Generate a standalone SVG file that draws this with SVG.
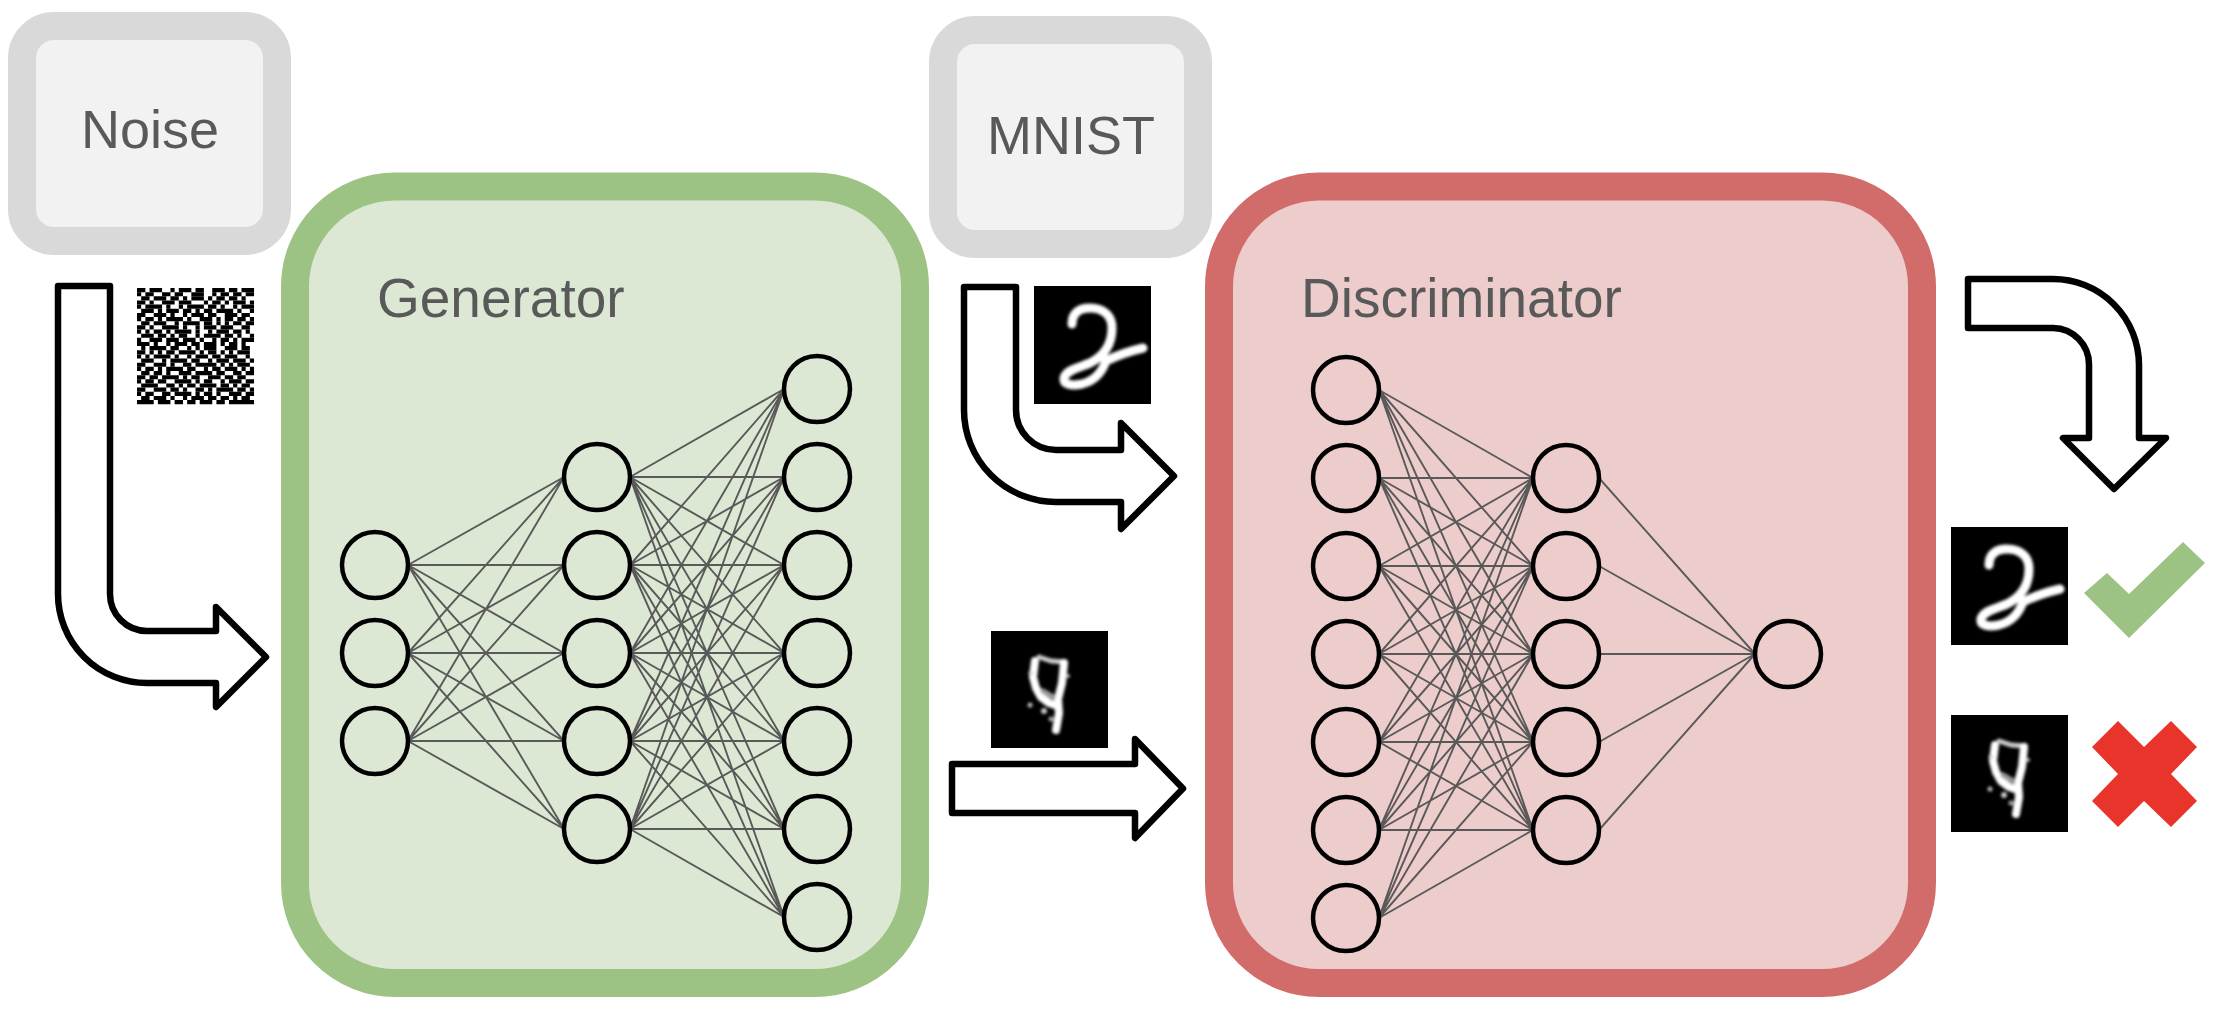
<svg xmlns="http://www.w3.org/2000/svg" width="2222" height="1012" viewBox="0 0 2222 1012">
<style>
.src rect{fill:#f2f2f2;stroke:#d9d9d9;stroke-width:28}
.lbl{font-family:"Liberation Sans",Arial,sans-serif;fill:#595959}
.edge{fill:none;stroke:#595959;stroke-width:1.9}
.nd{fill:none;stroke:#000;stroke-width:4.5}
.arrow{fill:#fff;stroke:#000;stroke-width:6.5;stroke-linejoin:round}
.nz path{fill:none;stroke:#000;stroke-width:1}
</style>
<defs>
<filter id="soft" x="-20%" y="-20%" width="140%" height="140%"><feGaussianBlur stdDeviation="1.8"/></filter>
<g id="img2">
<rect x="0" y="0" width="117" height="118" fill="#000"/>
<path d="M38,38 C38,26 46,22 56,22 C70,22 78,30 78,42 C78,58 70,70 56,77 C44,82 32,84 30,92 C29,99 38,100 48,98 C60,95 68,86 72,75 C82,70 96,65 109,62" fill="none" stroke="#fff" stroke-width="9" stroke-linecap="round" stroke-linejoin="round" filter="url(#soft)"/>
</g>
<g id="img4">
<rect x="0" y="0" width="117" height="117" fill="#000"/>
<g fill="none" stroke="#fff" stroke-linecap="round" stroke-linejoin="round" filter="url(#soft)">
<path d="M44,30 L42,46 L45,57 L50,66 L58,72 L64,74" stroke-width="8"/>
<path d="M48,26 L60,30 L74,31" stroke-width="5" stroke="#ccc"/>
<path d="M73,32 L71,52 L67,68 L68,82 L65,99" stroke-width="8"/>
<path d="M52,60 L62,66" stroke-width="5" stroke="#999"/>
<circle cx="39" cy="74" r="2.5" fill="#bbb" stroke="none"/>
<circle cx="53" cy="80" r="3" fill="#ccc" stroke="none"/>
<circle cx="60" cy="88" r="2.5" fill="#aaa" stroke="none"/>
<circle cx="40" cy="42" r="2.5" fill="#ddd" stroke="none"/>
<circle cx="77" cy="45" r="2" fill="#bbb" stroke="none"/>
</g>
</g>
</defs>
<rect width="2222" height="1012" fill="#fff"/>

<g id="generator">
<rect x="295" y="186.5" width="620" height="796.5" rx="100" fill="#dde8d4" stroke="#9dc384" stroke-width="28"/>
<text class="lbl" x="377" y="317" font-size="55">Generator</text>
<path class="edge" d="M408 565L564 477M408 565L564 565M408 565L564 653M408 565L564 741M408 565L564 829M408 653L564 477M408 653L564 565M408 653L564 653M408 653L564 741M408 653L564 829M408 741L564 477M408 741L564 565M408 741L564 653M408 741L564 741M408 741L564 829"/>
<path class="edge" d="M630 477L784 389M630 477L784 477M630 477L784 565M630 477L784 653M630 477L784 741M630 477L784 829M630 477L784 917M630 565L784 389M630 565L784 477M630 565L784 565M630 565L784 653M630 565L784 741M630 565L784 829M630 565L784 917M630 653L784 389M630 653L784 477M630 653L784 565M630 653L784 653M630 653L784 741M630 653L784 829M630 653L784 917M630 741L784 389M630 741L784 477M630 741L784 565M630 741L784 653M630 741L784 741M630 741L784 829M630 741L784 917M630 829L784 389M630 829L784 477M630 829L784 565M630 829L784 653M630 829L784 741M630 829L784 829M630 829L784 917"/>
<circle class="nd" cx="375" cy="565" r="33"/><circle class="nd" cx="375" cy="653" r="33"/><circle class="nd" cx="375" cy="741" r="33"/>
<circle class="nd" cx="597" cy="477" r="33"/><circle class="nd" cx="597" cy="565" r="33"/><circle class="nd" cx="597" cy="653" r="33"/><circle class="nd" cx="597" cy="741" r="33"/><circle class="nd" cx="597" cy="829" r="33"/>
<circle class="nd" cx="817" cy="389" r="33"/><circle class="nd" cx="817" cy="477" r="33"/><circle class="nd" cx="817" cy="565" r="33"/><circle class="nd" cx="817" cy="653" r="33"/><circle class="nd" cx="817" cy="741" r="33"/><circle class="nd" cx="817" cy="829" r="33"/><circle class="nd" cx="817" cy="917" r="33"/>
</g>

<g id="discriminator">
<rect x="1219" y="186.5" width="703" height="796.5" rx="100" fill="#edcdcc" stroke="#d26c6b" stroke-width="28"/>
<text class="lbl" x="1301" y="317" font-size="55">Discriminator</text>
<path class="edge" d="M1379 390L1533 478M1379 390L1533 566M1379 390L1533 654M1379 390L1533 742M1379 390L1533 830M1379 478L1533 478M1379 478L1533 566M1379 478L1533 654M1379 478L1533 742M1379 478L1533 830M1379 566L1533 478M1379 566L1533 566M1379 566L1533 654M1379 566L1533 742M1379 566L1533 830M1379 654L1533 478M1379 654L1533 566M1379 654L1533 654M1379 654L1533 742M1379 654L1533 830M1379 742L1533 478M1379 742L1533 566M1379 742L1533 654M1379 742L1533 742M1379 742L1533 830M1379 830L1533 478M1379 830L1533 566M1379 830L1533 654M1379 830L1533 742M1379 830L1533 830M1379 918L1533 478M1379 918L1533 566M1379 918L1533 654M1379 918L1533 742M1379 918L1533 830"/>
<path class="edge" d="M1599 478L1755 654M1599 566L1755 654M1599 654L1755 654M1599 742L1755 654M1599 830L1755 654"/>
<circle class="nd" cx="1346" cy="390" r="33"/><circle class="nd" cx="1346" cy="478" r="33"/><circle class="nd" cx="1346" cy="566" r="33"/><circle class="nd" cx="1346" cy="654" r="33"/><circle class="nd" cx="1346" cy="742" r="33"/><circle class="nd" cx="1346" cy="830" r="33"/><circle class="nd" cx="1346" cy="918" r="33"/>
<circle class="nd" cx="1566" cy="478" r="33"/><circle class="nd" cx="1566" cy="566" r="33"/><circle class="nd" cx="1566" cy="654" r="33"/><circle class="nd" cx="1566" cy="742" r="33"/><circle class="nd" cx="1566" cy="830" r="33"/>
<circle class="nd" cx="1788" cy="654" r="33"/>
</g>

<g id="noise" class="src">
<rect x="22" y="26" width="255" height="215" rx="32"/>
<text class="lbl" x="150" y="148" font-size="54" text-anchor="middle">Noise</text>
</g>

<g id="mnist" class="src">
<rect x="943" y="30" width="255" height="214" rx="32"/>
<text class="lbl" x="1071" y="154" font-size="54" text-anchor="middle">MNIST</text>
</g>

<g id="noise-image">
<rect x="137" y="288" width="117" height="116" fill="#fff"/>
<g class="nz" transform="translate(137,288) scale(4.18,4.15)">
<path d="M0 0.5h28" stroke-dasharray="2 1 3 2 1 1 3 1 2 2 3 1 2 1 3"/>
<path d="M0 1.5h28" stroke-dasharray="1 1 2 2 2 1 2 2 3 2 1 1 2 1 2 1 2"/>
<path d="M0 2.5h28" stroke-dasharray="0 1 2 1 3 1 2 1 1 1 3 1 1 1 2 1 2 1 1 2"/>
<path d="M0 3.5h28" stroke-dasharray="2 1 1 2 3 1 3 3 1 1 2 1 1 1 3 1 1"/>
<path d="M0 4.5h28" stroke-dasharray="1 1 4 1 1 2 1 1 4 1 2 1 1 2 1 1 3"/>
<path d="M0 5.5h28" stroke-dasharray="0 1 3 1 1 1 3 1 2 1 1 1 2 1 4 1 1 2 1"/>
<path d="M0 6.5h28" stroke-dasharray="2 2 3 1 1 2 1 1 3 1 2 2 3 1 2 1"/>
<path d="M0 7.5h28" stroke-dasharray="1 1 2 1 1 1 4 1 1 2 3 1 1 1 2 1 2"/>
<path d="M0 8.5h28" stroke-dasharray="0 1 2 1 3 2 1 1 4 1 2 1 1 1 1 1 2 1 2"/>
<path d="M0 9.5h28" stroke-dasharray="2 1 1 2 4 1 1 2 1 1 3 1 3 2 2 1"/>
<path d="M0 10.5h28" stroke-dasharray="1 1 1 1 2 1 1 1 4 1 1 2 1 1 3 1 2"/>
<path d="M0 11.5h28" stroke-dasharray="0 1 3 1 2 1 1 1 2 2 1 1 4 1 2 1 1 2 1"/>
<path d="M0 12.5h28" stroke-dasharray="1 2 3 1 3 1 3 1 1 2 1 1 2 1 1 1 3"/>
<path d="M0 13.5h28" stroke-dasharray="3 1 1 2 1 1 3 1 2 1 3 1 1 1 2 1 1 2"/>
<path d="M0 14.5h28" stroke-dasharray="0 1 1 1 4 1 2 2 1 1 1 1 3 2 3 1 2 1 2"/>
<path d="M0 15.5h28" stroke-dasharray="2 1 1 1 1 1 2 1 4 1 1 1 2 1 1 1 1 1 3"/>
<path d="M0 16.5h28" stroke-dasharray="1 1 1 1 4 1 1 2 1 1 3 1 2 1 3 2 1 1"/>
<path d="M0 17.5h28" stroke-dasharray="0 1 3 2 1 1 4 1 2 2 1 1 3 1 3 1 1"/>
<path d="M0 18.5h28" stroke-dasharray="2 2 3 1 1 2 2 1 5 1 1 1 1 1 3 1"/>
<path d="M0 19.5h28" stroke-dasharray="1 1 2 1 1 1 4 1 2 2 1 1 2 1 3 1 1 1 1"/>
<path d="M0 20.5h28" stroke-dasharray="0 1 2 1 2 1 1 2 3 1 4 1 2 2 2 1 2"/>
<path d="M0 21.5h28" stroke-dasharray="2 1 2 1 4 1 1 1 2 2 3 1 2 1 2 2"/>
<path d="M0 22.5h28" stroke-dasharray="1 1 2 1 2 2 4 1 1 1 2 2 1 1 3 1 2"/>
<path d="M0 23.5h28" stroke-dasharray="0 1 4 2 2 1 1 1 2 1 4 1 2 1 1 1 2 1"/>
<path d="M0 24.5h28" stroke-dasharray="2 2 3 1 2 1 1 2 2 1 1 1 4 1 2 1 1"/>
<path d="M0 25.5h28" stroke-dasharray="1 1 2 2 2 1 4 1 1 1 2 1 1 2 3 1 2"/>
<path d="M0 26.5h28" stroke-dasharray="0 1 2 1 3 1 1 2 1 1 3 1 2 1 2 1 1 1 2 1"/>
<path d="M0 27.5h28" stroke-dasharray="4 1 3 1 2 1 2 1 3 1 2 1 6"/>
</g>
</g>

<g id="mnist-sample"><use href="#img2" x="1034" y="286"/></g>
<g id="fake-sample"><use href="#img4" x="991" y="631"/></g>
<g id="real-result"><use href="#img2" x="1951" y="527"/></g>
<g id="fake-result"><use href="#img4" x="1951" y="715"/></g>

<g id="check"><polygon points="2084,593 2107,573 2129,594 2183,542 2205,563 2129,638" fill="#9dc384"/></g>
<g id="cross"><polygon points="2092,747 2118,721 2144,747 2171,721 2197,747 2171,774 2197,801 2171,827 2144,801 2118,827 2092,801 2118,774" fill="#e8342a"/></g>

<g id="connectors">
<path class="arrow" d="M58,286 H110 V594 A37,37 0 0 0 147,631 H216 V607 L266,657 L216,707 V683 H147 A89,89 0 0 1 58,594 Z"/>
<path class="arrow" d="M964,287 H1016 V410 A40,40 0 0 0 1056,450 H1121 V423 L1174,476 L1121,529 V502 H1056 A92,92 0 0 1 964,410 Z"/>
<path class="arrow" d="M952,764 H1135 V739 L1183,788.5 L1135,838 V813 H952 Z"/>
<path class="arrow" d="M1968,279 H2053 A86,86 0 0 1 2139,365 V438 H2166 L2114,489 L2063,438 H2089 V365 A36.5,36.5 0 0 0 2053,328 H1968 Z"/>
</g>
</svg>
